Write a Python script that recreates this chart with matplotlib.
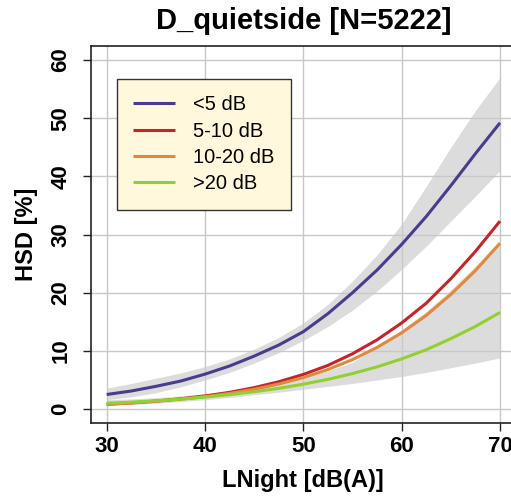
import matplotlib
matplotlib.use("Agg")
import matplotlib.pyplot as plt

# noise level at night, dB(A)
lnight = [30, 32.5, 35, 37.5, 40, 42.5, 45, 47.5, 50, 52.5, 55, 57.5, 60, 62.5, 65, 67.5, 70]

# HSD [%] per quiet-side level difference
hsd_lt5 = [2.5, 3.1, 3.9, 4.8, 6.0, 7.4, 9.1, 11.0, 13.3, 16.4, 20.0, 23.9, 28.3, 33.1, 38.4, 43.9, 49.2]
hsd_5_10 = [0.83, 1.07, 1.37, 1.76, 2.25, 2.87, 3.68, 4.69, 5.95, 7.5, 9.5, 11.9, 14.8, 18.2, 22.4, 27.1, 32.3]
hsd_10_20 = [0.82, 1.04, 1.32, 1.68, 2.12, 2.69, 3.40, 4.30, 5.41, 6.8, 8.5, 10.6, 13.1, 16.1, 19.7, 23.8, 28.5]
hsd_gt20 = [0.99, 1.18, 1.43, 1.72, 2.06, 2.48, 2.98, 3.56, 4.27, 5.10, 6.10, 7.25, 8.62, 10.2, 12.1, 14.2, 16.6]

# confidence bands (only <5 dB and >20 dB are visible)
lt5_lo = [1.6, 2.1, 2.8, 3.8, 5.0, 6.3, 7.9, 9.7, 11.8, 14.2, 17.0, 20.3, 24.0, 28.0, 32.3, 36.6, 41.0]
lt5_hi = [3.6, 4.4, 5.3, 6.2, 7.3, 8.6, 10.3, 12.3, 14.8, 18.0, 22.0, 26.5, 31.8, 38.3, 45.0, 51.3, 57.0]
gt20_lo = [0.6, 0.78, 1.0, 1.3, 1.6, 2.0, 2.45, 2.9, 3.4, 3.9, 4.4, 5.0, 5.6, 6.3, 7.1, 7.9, 8.8]
gt20_hi = [1.6, 1.75, 1.95, 2.25, 2.65, 3.1, 3.7, 4.5, 5.4, 6.6, 8.0, 10.8, 13.6, 16.8, 20.5, 24.6, 29.0]

labels = ["<5 dB", "5-10 dB", "10-20 dB", ">20 dB"]
colors = ["#483d8b", "#c0262b", "#e0883c", "#92cf30"]

plt.rcParams['font.family'] = ['Liberation Sans', 'DejaVu Sans']

fig = plt.figure(figsize=(5.11, 4.98), dpi=100)
ax = fig.add_axes([0.178, 0.1506, 0.8313, 0.757])

band_col = "#dcdcdc"
ax.fill_between(lnight, lt5_lo, lt5_hi, color=band_col, lw=0, zorder=1)
ax.fill_between(lnight, gt20_lo, gt20_hi, color=band_col, lw=0, zorder=1)

# R style grid at the ticks
for v in range(30, 71, 10):
    ax.axvline(v, color="#c8c8c8", lw=1.0, zorder=1.5)
for v in range(0, 61, 10):
    ax.axhline(v, color="#c8c8c8", lw=1.0, zorder=1.5)

series = [hsd_lt5, hsd_5_10, hsd_10_20, hsd_gt20]
for ys, lab, c in zip(series, labels, colors):
    ax.plot(lnight, ys, color=c, lw=2.2, label=lab, zorder=3, solid_capstyle="butt")

ax.set_xlim(28.4, 71.6)
ax.set_ylim(-2.4, 62.4)
ax.set_xticks(range(30, 71, 10))
ax.set_yticks(range(0, 61, 10))
ax.tick_params(length=6, width=1, labelsize=16, color="#222222")
ax.tick_params(axis="x", pad=3)
ax.tick_params(axis="y", pad=8)
for t in ax.get_xticklabels():
    t.set_fontweight("bold")
for t in ax.get_yticklabels():
    t.set_fontweight("bold")
    t.set_rotation(90)
    t.set_va("center")
for s in ax.spines.values():
    s.set_linewidth(1.2)
    s.set_color("#222222")
ax.spines["right"].set_visible(False)

ax.set_xlabel("LNight [dB(A)]", fontsize=17, fontweight="bold", labelpad=9)
ax.set_ylabel("HSD [%]", fontsize=17, fontweight="bold", labelpad=9)
ax.set_title("D_quietside [N=5222]", fontsize=21, fontweight="bold", pad=12)

leg = ax.legend(loc="upper left", bbox_to_anchor=(0.0605, 0.9125), fontsize=14.5,
                frameon=True, fancybox=False, framealpha=1, handlelength=2.1,
                handletextpad=0.9, labelspacing=0.37, borderpad=0.8,
                borderaxespad=0)
leg.get_frame().set_facecolor("#fff8dc")
leg.get_frame().set_edgecolor("#333333")
leg.get_frame().set_linewidth(1.0)
leg.set_zorder(5)
for line in leg.get_lines():
    line.set_linewidth(2.2)

fig.savefig("out.png", dpi=100)
